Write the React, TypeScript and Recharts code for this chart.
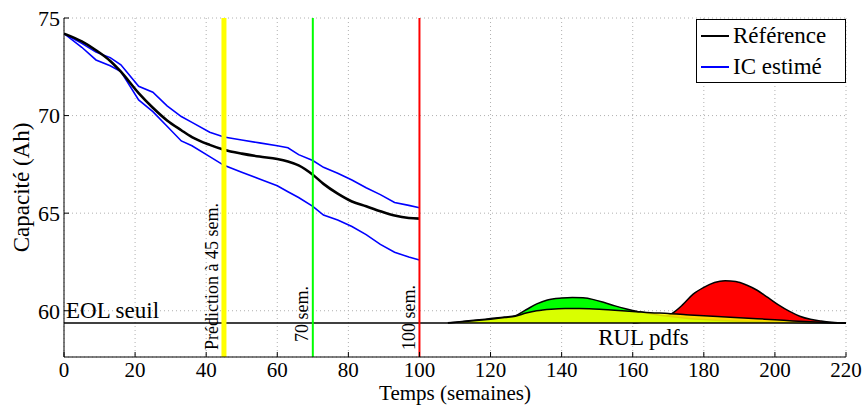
import {
    ComposedChart,
    Line,
    Area,
    XAxis,
    YAxis,
    CartesianGrid,
    ReferenceLine,
    ReferenceDot,
    Legend
} from "recharts";

const FONT = "'Liberation Serif', 'Times New Roman', serif";

// capacity trajectories (weeks 0..100)
const weeks = [0, 5, 9, 13, 16, 21, 25, 29, 33, 36, 41, 45, 50, 55, 60, 63, 66, 70, 73, 77, 81, 85, 89, 93, 97, 100];
const reference = [74.2, 73.8, 73.35, 72.8, 72.25, 71.15, 70.4, 69.75, 69.25, 68.9, 68.5, 68.25, 68.05, 67.9, 67.78, 67.65, 67.45, 66.97, 66.5, 66.0, 65.6, 65.35, 65.1, 64.88, 64.75, 64.72];
const icHigh = [74.2, 73.7, 73.25, 72.97, 72.6, 71.5, 71.2, 70.5, 69.95, 69.65, 69.15, 68.9, 68.75, 68.6, 68.45, 68.35, 68.0, 67.7, 67.35, 67.05, 66.7, 66.3, 65.95, 65.55, 65.4, 65.28];
const icLow = [74.2, 73.5, 72.85, 72.55, 72.25, 70.8, 70.2, 69.45, 68.7, 68.45, 67.9, 67.45, 67.1, 66.75, 66.4, 66.1, 65.8, 65.35, 64.9, 64.65, 64.32, 63.9, 63.4, 63.0, 62.75, 62.6];

// RUL pdfs, drawn on top of the EOL threshold
const eolThreshold = 59.37;

const pdf45Weeks = [108, 112, 116, 120, 124, 127, 130, 133, 137, 141, 145, 149, 153, 157, 161, 165, 170, 175, 180, 185, 190, 195, 200, 205, 210, 215, 220];
const pdf45 = [59.37, 59.43, 59.5, 59.57, 59.65, 59.72, 59.88, 60.0, 60.08, 60.11, 60.11, 60.09, 60.05, 60.0, 59.95, 59.9, 59.86, 59.8, 59.74, 59.69, 59.64, 59.59, 59.54, 59.48, 59.43, 59.39, 59.37];

const pdf70Weeks = [108, 112, 116, 120, 124, 127, 130, 133, 136, 140, 143, 146, 149, 152, 155, 158, 161, 165, 170, 175, 180, 185, 190, 195, 200, 210, 220];
const pdf70 = [59.38, 59.45, 59.52, 59.6, 59.68, 59.75, 60.05, 60.35, 60.55, 60.65, 60.68, 60.66, 60.57, 60.42, 60.25, 60.1, 59.97, 59.85, 59.72, 59.62, 59.55, 59.5, 59.46, 59.43, 59.41, 59.39, 59.37];

const pdf100Weeks = [160, 164, 168, 171, 174, 177, 180, 183, 186, 189, 192, 195, 198, 201, 204, 207, 210, 213, 216, 220];
const pdf100 = [59.37, 59.45, 59.62, 59.85, 60.3, 60.85, 61.2, 61.45, 61.54, 61.5, 61.32, 61.05, 60.68, 60.3, 59.98, 59.72, 59.56, 59.47, 59.41, 59.37];

const predictionWeeks = [45, 70, 100];
const xTicks = [0, 20, 40, 60, 80, 100, 120, 140, 160, 180, 200, 220];
const yTicks = [60, 65, 70, 75];

const legendItems = [
    { label: "Référence", color: "#000000" },
    { label: "IC estimé", color: "#0000ff" },
];

const lineData = weeks.map((w, i) => ({ week: w, ref: reference[i], high: icHigh[i], low: icLow[i] }));
const toPdf = (xs: number[], ys: number[]) => xs.map((w, i) => ({ week: w, density: ys[i] }));

const verticalLabel = (text: string, dx: number, gap: number) => (props: any) => {
    const vb = props.viewBox;
    const x = vb.x + dx;
    const y = vb.y + vb.height - gap;
    return (
        <text x={x} y={y} transform={`rotate(-90 ${x} ${y})`} fontFamily={FONT} fontSize={18} fill="#000">
            {text}
        </text>
    );
};

const LegendBox = () => (
    <div style={{ width: 150, height: 64, border: "1px solid #000", background: "#fff", boxSizing: "border-box", fontFamily: FONT, fontSize: 23 }}>
        {legendItems.map((item) => (
            <div key={item.label} style={{ display: "flex", alignItems: "center", height: 31 }}>
                <svg width={32} height={4} style={{ marginLeft: 4 }}>
                    <line x1={0} y1={2} x2={28} y2={2} stroke={item.color} strokeWidth={2} />
                </svg>
                <span style={{ lineHeight: "23px" }}>{item.label}</span>
            </div>
        ))}
    </div>
);

export default function App() {
    const tickStyle = { fontFamily: FONT, fontSize: 22, fill: "#000" };
    const xTickStyle = { fontFamily: FONT, fontSize: 21, fill: "#000" };
    return (
        <div style={{ position: "absolute", left: 0, top: 0 }}>
            <ComposedChart width={864} height={405} data={lineData} margin={{ top: 18, right: 18, bottom: 0, left: 0 }}>
                <CartesianGrid stroke="#b0b0b0" strokeDasharray="1 3" />
                <XAxis
                    dataKey="week"
                    type="number"
                    domain={[0, 220]}
                    ticks={xTicks}
                    allowDataOverflow
                    height={48}
                    tickSize={-5}
                    tickMargin={10}
                    tick={xTickStyle}
                    axisLine={{ stroke: "#000" }}
                    tickLine={{ stroke: "#000" }}
                    label={{
                        content: (p: any) => (
                            <text x={p.viewBox.x + p.viewBox.width / 2} y={p.viewBox.y + 43.3} textAnchor="middle" fontFamily={FONT} fontSize={21}>
                                Temps (semaines)
                            </text>
                        ),
                    }}
                />
                <XAxis xAxisId="top" orientation="top" type="number" domain={[0, 220]} ticks={xTicks} height={0} tickSize={-5} tick={() => null} axisLine={{ stroke: "#000" }} tickLine={{ stroke: "#000" }} />
                <YAxis
                    type="number"
                    domain={[57.63, 75]}
                    ticks={yTicks}
                    allowDataOverflow
                    width={64}
                    tickSize={-5}
                    tickMargin={9}
                    tick={tickStyle}
                    axisLine={{ stroke: "#000" }}
                    tickLine={{ stroke: "#000" }}
                    label={{
                        content: (p: any) => {
                            const x = 29;
                            const y = p.viewBox.y + p.viewBox.height / 2;
                            return (
                                <text x={x} y={y} transform={`rotate(-90 ${x} ${y})`} textAnchor="middle" fontFamily={FONT} fontSize={23}>
                                    Capacité (Ah)
                                </text>
                            );
                        },
                    }}
                />
                <YAxis yAxisId="right" orientation="right" type="number" domain={[57.63, 75]} ticks={yTicks} width={0} tickSize={-5} tick={() => null} axisLine={{ stroke: "#000" }} tickLine={{ stroke: "#000" }} />

                <Area data={toPdf(pdf100Weeks, pdf100)} dataKey="density" type="monotone" baseValue={eolThreshold} fill="#ff0000" fillOpacity={1} stroke="#000" strokeWidth={1.5} isAnimationActive={false} legendType="none" />
                <Area data={toPdf(pdf70Weeks, pdf70)} dataKey="density" type="monotone" baseValue={eolThreshold} fill="#00ff00" fillOpacity={1} stroke="#000" strokeWidth={1.5} isAnimationActive={false} legendType="none" />
                <Area data={toPdf(pdf45Weeks, pdf45)} dataKey="density" type="monotone" baseValue={eolThreshold} fill="#ffff00" fillOpacity={0.85} stroke="#000" strokeWidth={1.5} isAnimationActive={false} legendType="none" />

                <Line dataKey="high" type="linear" stroke="#0000ff" strokeWidth={1.6} dot={false} isAnimationActive={false} />
                <Line dataKey="low" type="linear" stroke="#0000ff" strokeWidth={1.6} dot={false} isAnimationActive={false} />
                <Line dataKey="ref" type="monotone" stroke="#000000" strokeWidth={2.6} dot={false} isAnimationActive={false} />

                <ReferenceLine
                    y={eolThreshold}
                    stroke="#000"
                    strokeWidth={1.5}
                    label={{
                        content: (p: any) => (
                            <text x={p.viewBox.x + 2} y={p.viewBox.y - 5} fontFamily={FONT} fontSize={23}>
                                EOL seuil
                            </text>
                        ),
                    }}
                />
                <ReferenceDot
                    x={163}
                    y={eolThreshold}
                    r={0}
                    fill="none"
                    stroke="none"
                    label={{
                        content: (p: any) => (
                            <text x={p.viewBox.x} y={p.viewBox.y + 22} textAnchor="middle" fontFamily={FONT} fontSize={23}>
                                RUL pdfs
                            </text>
                        ),
                    }}
                />
                <ReferenceLine x={predictionWeeks[0]} stroke="#ffff00" strokeWidth={5} label={{ content: verticalLabel("Prédiction à 45 sem.", -6, 7) }} />
                <ReferenceLine x={predictionWeeks[1]} stroke="#00ff00" strokeWidth={2} label={{ content: verticalLabel("70 sem.", -5, 15) }} />
                <ReferenceLine x={predictionWeeks[2]} stroke="#ff0000" strokeWidth={2} label={{ content: verticalLabel("100 sem.", -4.5, 7) }} />

                <Legend layout="vertical" align="center" verticalAlign="middle" wrapperStyle={{ left: 696, top: 19, width: 150 }} content={() => <LegendBox />} />
            </ComposedChart>
        </div>
    );
}
